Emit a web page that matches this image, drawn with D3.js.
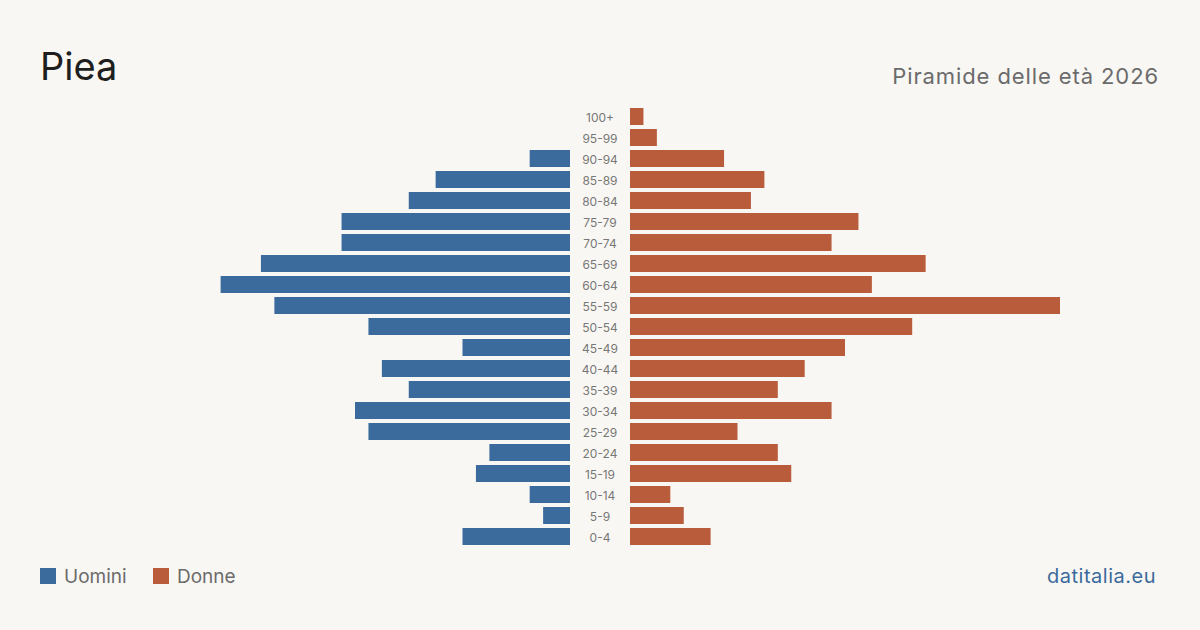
<!DOCTYPE html>
<html lang="it">
<head>
<meta charset="UTF-8">
<title>Piea - Piramide delle età 2026</title>
<script src="https://d3js.org/d3.v7.min.js"></script>
<style>
  body { margin: 0; background: #f9f7f3; }
  svg { display: block; font-family: Inter, "Noto Sans", sans-serif; }
</style>
</head>
<body>
<svg id="chart" width="1200" height="630"></svg>
<script>
// age classes, top to bottom
const ageGroups = ["100+","95-99","90-94","85-89","80-84","75-79","70-74","65-69","60-64","55-59",
  "50-54","45-49","40-44","35-39","30-34","25-29","20-24","15-19","10-14","5-9","0-4"];
const men   = [0, 0, 3, 10, 12, 17, 17, 23, 26, 22, 15, 8, 14, 12, 16, 15, 6, 7, 3, 2, 8];
const women = [1, 2, 7, 10, 9, 17, 15, 22, 18, 32, 21, 16, 13, 11, 15, 8, 11, 12, 3, 4, 6];

const colMen = "#3b6b9c", colWomen = "#b95c3c";
const svg = d3.select("#chart");

svg.append("rect").attr("width", 1200).attr("height", 630).attr("fill", "#f9f7f3");

const maxVal = d3.max([...men, ...women]);
const xR = d3.scaleLinear().domain([0, maxVal]).range([630, 1060]);
const xL = d3.scaleLinear().domain([0, maxVal]).range([570, 140]);
const y = d3.scaleBand().domain(ageGroups).range([108, 545]).paddingInner(4 / 21).paddingOuter(0);

svg.selectAll(".m").data(ageGroups).enter().append("rect")
  .attr("x", (d, i) => xL(men[i]))
  .attr("y", d => y(d))
  .attr("width", (d, i) => xL(0) - xL(men[i]))
  .attr("height", y.bandwidth())
  .attr("fill", colMen);

svg.selectAll(".w").data(ageGroups).enter().append("rect")
  .attr("x", xR(0))
  .attr("y", d => y(d))
  .attr("width", (d, i) => xR(women[i]) - xR(0))
  .attr("height", y.bandwidth())
  .attr("fill", colWomen);

svg.selectAll(".lab").data(ageGroups).enter().append("text")
  .attr("x", 600)
  .attr("y", d => y(d) + y.bandwidth() / 2 + 1)
  .attr("dy", "0.35em")
  .attr("text-anchor", "middle")
  .attr("font-size", 12)
  .attr("fill", "#777")
  .text(d => d);

// header
svg.append("text").attr("x", 40).attr("y", 80)
  .attr("font-size", 38).attr("fill", "#1e1e1e").text("Piea");
svg.append("text").attr("x", 1159).attr("y", 84).attr("text-anchor", "end")
  .attr("font-size", 22).attr("letter-spacing", 0.9).attr("fill", "#6b6b6b").text("Piramide delle età 2026");

// legend
const legend = [["Uomini", colMen, 40], ["Donne", colWomen, 153]];
legend.forEach(([name, c, lx]) => {
  svg.append("rect").attr("x", lx).attr("y", 568).attr("width", 16).attr("height", 16).attr("fill", c);
  svg.append("text").attr("x", lx + 24).attr("y", 583)
    .attr("font-size", 19).attr("fill", "#6b6b6b").text(name);
});

svg.append("text").attr("x", 1156).attr("y", 583).attr("text-anchor", "end")
  .attr("font-size", 20).attr("letter-spacing", 0.5).attr("fill", "#3b6b9c").text("datitalia.eu");
</script>
</body>
</html>
